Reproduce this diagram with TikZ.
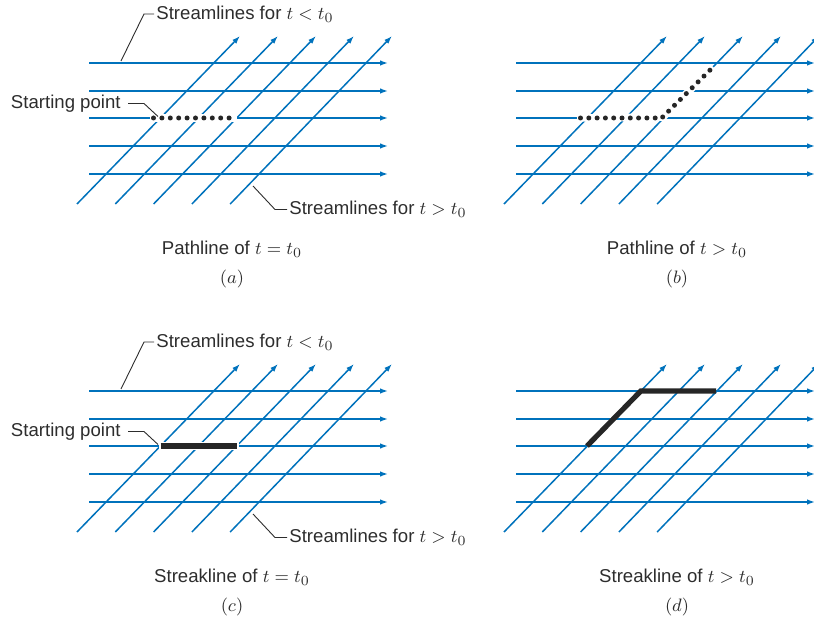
\documentclass[tikz,border=0pt]{standalone}
\usepackage{fontspec}
\setmainfont{Liberation Sans}
\usetikzlibrary{arrows.meta}
\definecolor{flowblue}{RGB}{0,114,188}
\definecolor{labelgray}{RGB}{45,45,45}
\tikzset{
  stream/.style={flowblue,line width=0.75pt,-{Latex[length=4pt,width=2.8pt]}},
  leader/.style={labelgray,line width=0.45pt},
  lbl/.style={text=labelgray,inner sep=1pt,font=\fontsize{9.3}{11}\selectfont},
  halo/.style={white,line width=3.8pt},
  marker/.style={fill=black!85},
  streak/.style={black!85,line width=2.6pt},
}
% one field of streamlines: five for t < t0 (horizontal), five for t > t0 (slanted)
\newcommand{\streamgrid}[1]{%
  \begin{scope}[shift={#1}]
    \foreach \r in {63,91,118,146,174} {\draw[stream] (89,\r) -- (388,\r);}
    \foreach \i in {0,...,4} {\draw[stream] ({77+38.3*\i},204) -- ({240+38*\i},36);}
  \end{scope}}
% the three labels of the left-hand fields
\newcommand{\streamlabels}[2]{%
  \begin{scope}[shift={#1}]
    \node[lbl,anchor=west] (lt#2) at (154,14) {Streamlines for $t < t_0$};
    \coordinate (lt#2tip) at (121,61);
    \draw[leader] (lt#2.west) -- ++(-10,0) -- (lt#2tip);
    \node[lbl,anchor=east] (sp#2) at (123,103.5) {Starting point};
    \coordinate (sp#2tip) at (158,116.5);
    \draw[leader] ([xshift=2.5pt]sp#2.east) -- ++(16,0) -- (sp#2tip);
    \node[lbl,anchor=west] (gt#2) at (287,209.5) {Streamlines for $t > t_0$};
    \coordinate (gt#2tip) at (253,186);
    \draw[leader] (gt#2.west) -- ++(-12,0) -- (gt#2tip);
  \end{scope}}

\begin{document}
\begin{tikzpicture}[x=0.5pt,y=-0.5pt]
  \useasboundingbox (0,0) rectangle (814,620);
  % (a) pathline at t = t0
  \streamgrid{(0,0)}
  \draw[halo] (150,118) -- (237,118);
  \foreach \k in {0,...,9} {\fill[marker] ({153.5+8.4*\k},118) circle (1.25pt);}
  \streamlabels{(0,0)}{A}
  \node[lbl] (capA) at (232,249) {Pathline of $t = t_0$};
  \node[lbl] (tagA) at (232,279) {$(a)$};
  % (b) pathline at t > t0
  \streamgrid{(427,0)}
  \begin{scope}[shift={(427,0)}]
    \draw[halo] (150,118) -- (236,117) -- (286,67);
    \foreach \k in {0,...,9} {\fill[marker] ({153.5+8.3*\k},118) circle (1.25pt);}
    \foreach \k in {0,...,8} {\fill[marker] ({235.7+5.9*\k},{117-5.85*\k}) circle (1.25pt);}
  \end{scope}
  \node[lbl] (capB) at (677,249) {Pathline of $t > t_0$};
  \node[lbl] (tagB) at (677,279) {$(b)$};
  % (c) streakline at t = t0
  \streamgrid{(0,328)}
  \begin{scope}[shift={(0,328)}]
    \draw[halo,line width=3.8pt] (159,118) -- (238.5,118);
    \draw[streak] (160.5,118) -- (236.5,118);
  \end{scope}
  \streamlabels{(0,328)}{C}
  \node[lbl] (capC) at (232,577) {Streakline of $t = t_0$};
  \node[lbl] (tagC) at (232,607) {$(c)$};
  % (d) streakline at t > t0
  \streamgrid{(427,328)}
  \begin{scope}[shift={(427,328)}]
    \draw[streak] (160,118) -- (213.8,63) -- (289,63);
  \end{scope}
  \node[lbl] (capD) at (677,577) {Streakline of $t > t_0$};
  \node[lbl] (tagD) at (677,607) {$(d)$};
\end{tikzpicture}
\end{document}
